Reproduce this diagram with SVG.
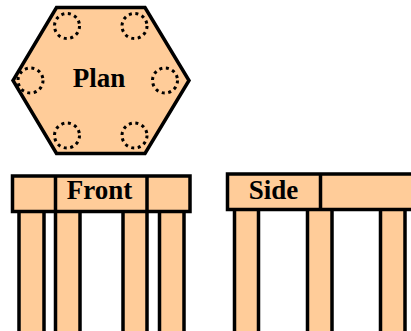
<svg xmlns="http://www.w3.org/2000/svg" width="411" height="331" viewBox="0 0 411 331">
<style>
.s{fill:#ffcc99;stroke:#000;stroke-width:3.500}
.l{fill:none;stroke:#000;stroke-width:3.500}
.c{fill:none;stroke:#000;stroke-width:3;stroke-dasharray:3 3.600}
text{font-family:"Liberation Serif","Times New Roman",serif;font-weight:bold;font-size:27px;fill:#000;text-anchor:middle}
</style>
<g id="plan">
<polygon class="s" points="56.500,7.500 145,7.500 189,80.500 145,153.500 56.500,153.500 13,80.500"/>
<circle class="c" cx="67" cy="26" r="12.500"/>
<circle class="c" cx="134.500" cy="26" r="12.500"/>
<circle class="c" cx="30.500" cy="80.500" r="12.500"/>
<circle class="c" cx="165" cy="80.500" r="12.500"/>
<circle class="c" cx="67" cy="135.500" r="12.500"/>
<circle class="c" cx="134.500" cy="135.500" r="12.500"/>
<text x="99" y="87">Plan</text>
</g>
<g id="front">
<rect class="s" x="19" y="211" width="25" height="125"/>
<rect class="s" x="55.500" y="211" width="24.500" height="125"/>
<rect class="s" x="123" y="211" width="24" height="125"/>
<rect class="s" x="159.500" y="211" width="24.500" height="125"/>
<rect class="s" x="12.500" y="176" width="177.500" height="35.500"/>
<path class="l" d="M55.500 176V211.500M147 176V211.500"/>
<text x="99.500" y="199">Front</text>
</g>
<g id="side">
<rect class="s" x="234.500" y="209" width="24" height="127"/>
<rect class="s" x="307.500" y="209" width="24.500" height="127"/>
<rect class="s" x="380.500" y="209" width="24.500" height="127"/>
<rect class="s" x="227.500" y="174" width="186" height="35.500"/>
<path class="l" d="M320.500 174V209.500"/>
<text x="273.500" y="199">Side</text>
</g>
</svg>
